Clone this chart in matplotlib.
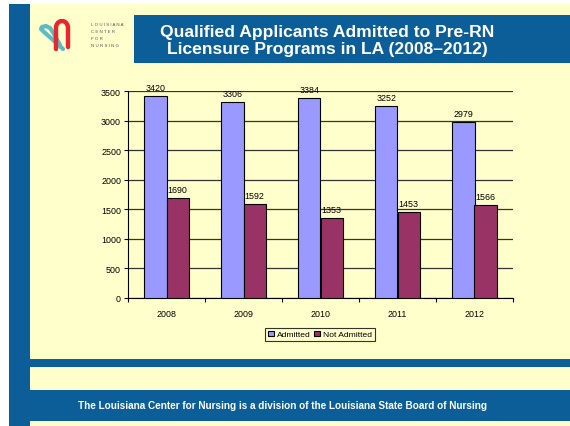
import numpy as np
import matplotlib
matplotlib.use('Agg')
import matplotlib.pyplot as plt
from matplotlib.patches import Rectangle

plt.rcParams['font.family'] = ['Liberation Sans', 'DejaVu Sans']

years = ['2008', '2009', '2010', '2011', '2012']
admitted = [3420, 3306, 3384, 3252, 2979]
not_admitted = [1690, 1592, 1353, 1453, 1566]
series_names = ['Admitted', 'Not Admitted']
yticks = [0, 500, 1000, 1500, 2000, 2500, 3000, 3500]

W, H = 570, 427
bg = '#FFFFCC'
navy = '#0B5E98'

fig = plt.figure(figsize=(W / 100, H / 100), dpi=100)
fig.patch.set_facecolor('white')


# pixel box (top-left origin) -> figure fraction rectangle
def box(x, y, w, h, color):
    fig.add_artist(Rectangle((x / W, 1 - (y + h) / H), w / W, h / H,
                             transform=fig.transFigure, facecolor=color,
                             edgecolor='none', zorder=0))


box(30, 5, 540, 422, bg)          # slide background
box(9, 5, 21, 422, navy)          # left stripe
box(134, 16, 436, 48, navy)       # title band
box(30, 360, 540, 8, navy)        # thin divider
box(30, 391, 540, 31, navy)       # footer band

fig.text(327 / W, 1 - 41 / H,
         'Qualified Applicants Admitted to Pre-RN\nLicensure Programs in LA (2008\u20132012)',
         ha='center', va='center', color='white', fontsize=12.6, fontweight='bold',
         linespacing=1.2)
fig.text(282 / W, 1 - 406 / H,
         'The Louisiana Center for Nursing is a division of the Louisiana State Board of Nursing',
         ha='center', va='center', color='white', fontsize=7.2, fontweight='bold')

# logo (pixel coords inside a small axes)
lax = fig.add_axes([36 / W, 1 - 54 / H, 40 / W, 34 / H])
lax.set_xlim(36, 76)
lax.set_ylim(54, 20)
lax.axis('off')
lax.plot([63, 52, 44, 41, 42, 46, 50, 54, 60],
         [50, 40, 33, 30, 28, 27, 29, 35, 46],
         color='#5BBCC8', lw=3, solid_capstyle='round')
t = np.linspace(0, np.pi, 40)
lax.plot(np.r_[56, 62 - 6 * np.cos(t), 68],
         np.r_[50, 29 - 7 * np.sin(t), 48], color='#E8262D', lw=3.2,
         solid_capstyle='round')
for i, word in enumerate(['LOUISIANA', 'CENTER', 'FOR', 'NURSING']):
    fig.text(91 / W, 1 - (25 + 7 * i) / H, ' '.join(word), fontsize=3.2,
             color='#555555', va='center')

# chart
ax = fig.add_axes([128 / W, 1 - 299 / H, 385 / W, 207 / H])
ax.set_facecolor(bg)
x = np.arange(len(years))
bw = 0.29
b1 = ax.bar(x - bw / 2, admitted, bw, color='#9999FF', edgecolor='black',
            linewidth=0.8, label=series_names[0], zorder=3)
b2 = ax.bar(x + bw / 2, not_admitted, bw, color='#993366', edgecolor='black',
            linewidth=0.8, label=series_names[1], zorder=3)
for bars in (b1, b2):
    for r in bars:
        ax.text(r.get_x() + r.get_width() / 2, r.get_height() + 70,
                str(int(r.get_height())), ha='center', va='bottom', fontsize=6.4)

ax.set_xlim(-0.5, len(years) - 0.5)
ax.set_ylim(0, 3500)
ax.set_yticks(yticks)
ax.tick_params(axis='y', labelsize=6.4, length=3, width=0.8, pad=2)
ax.set_xticks(x)
ax.set_xticklabels(years, fontsize=6.4)
ax.tick_params(axis='x', length=0, pad=8)
ax.set_xticks(np.arange(len(years) + 1) - 0.5, minor=True)
ax.tick_params(axis='x', which='minor', length=3, width=0.8)
ax.yaxis.grid(True, color='#333333', linewidth=0.9, zorder=0)
ax.set_axisbelow(True)
for s in ('top', 'right'):
    ax.spines[s].set_visible(False)
ax.spines['left'].set_linewidth(0.8)
ax.spines['bottom'].set_linewidth(0.8)

leg = fig.legend(handles=[b1, b2], loc='center', bbox_to_anchor=(320 / W, 1 - 335.5 / H),
                 ncol=2, fontsize=6.1, frameon=True, fancybox=False,
                 handlelength=0.7, handleheight=0.7, handletextpad=0.3,
                 columnspacing=0.5, borderpad=0.35, borderaxespad=0)
leg.get_frame().set_edgecolor('black')
leg.get_frame().set_facecolor(bg)
leg.get_frame().set_linewidth(0.8)

fig.savefig('out.png', dpi=100)
